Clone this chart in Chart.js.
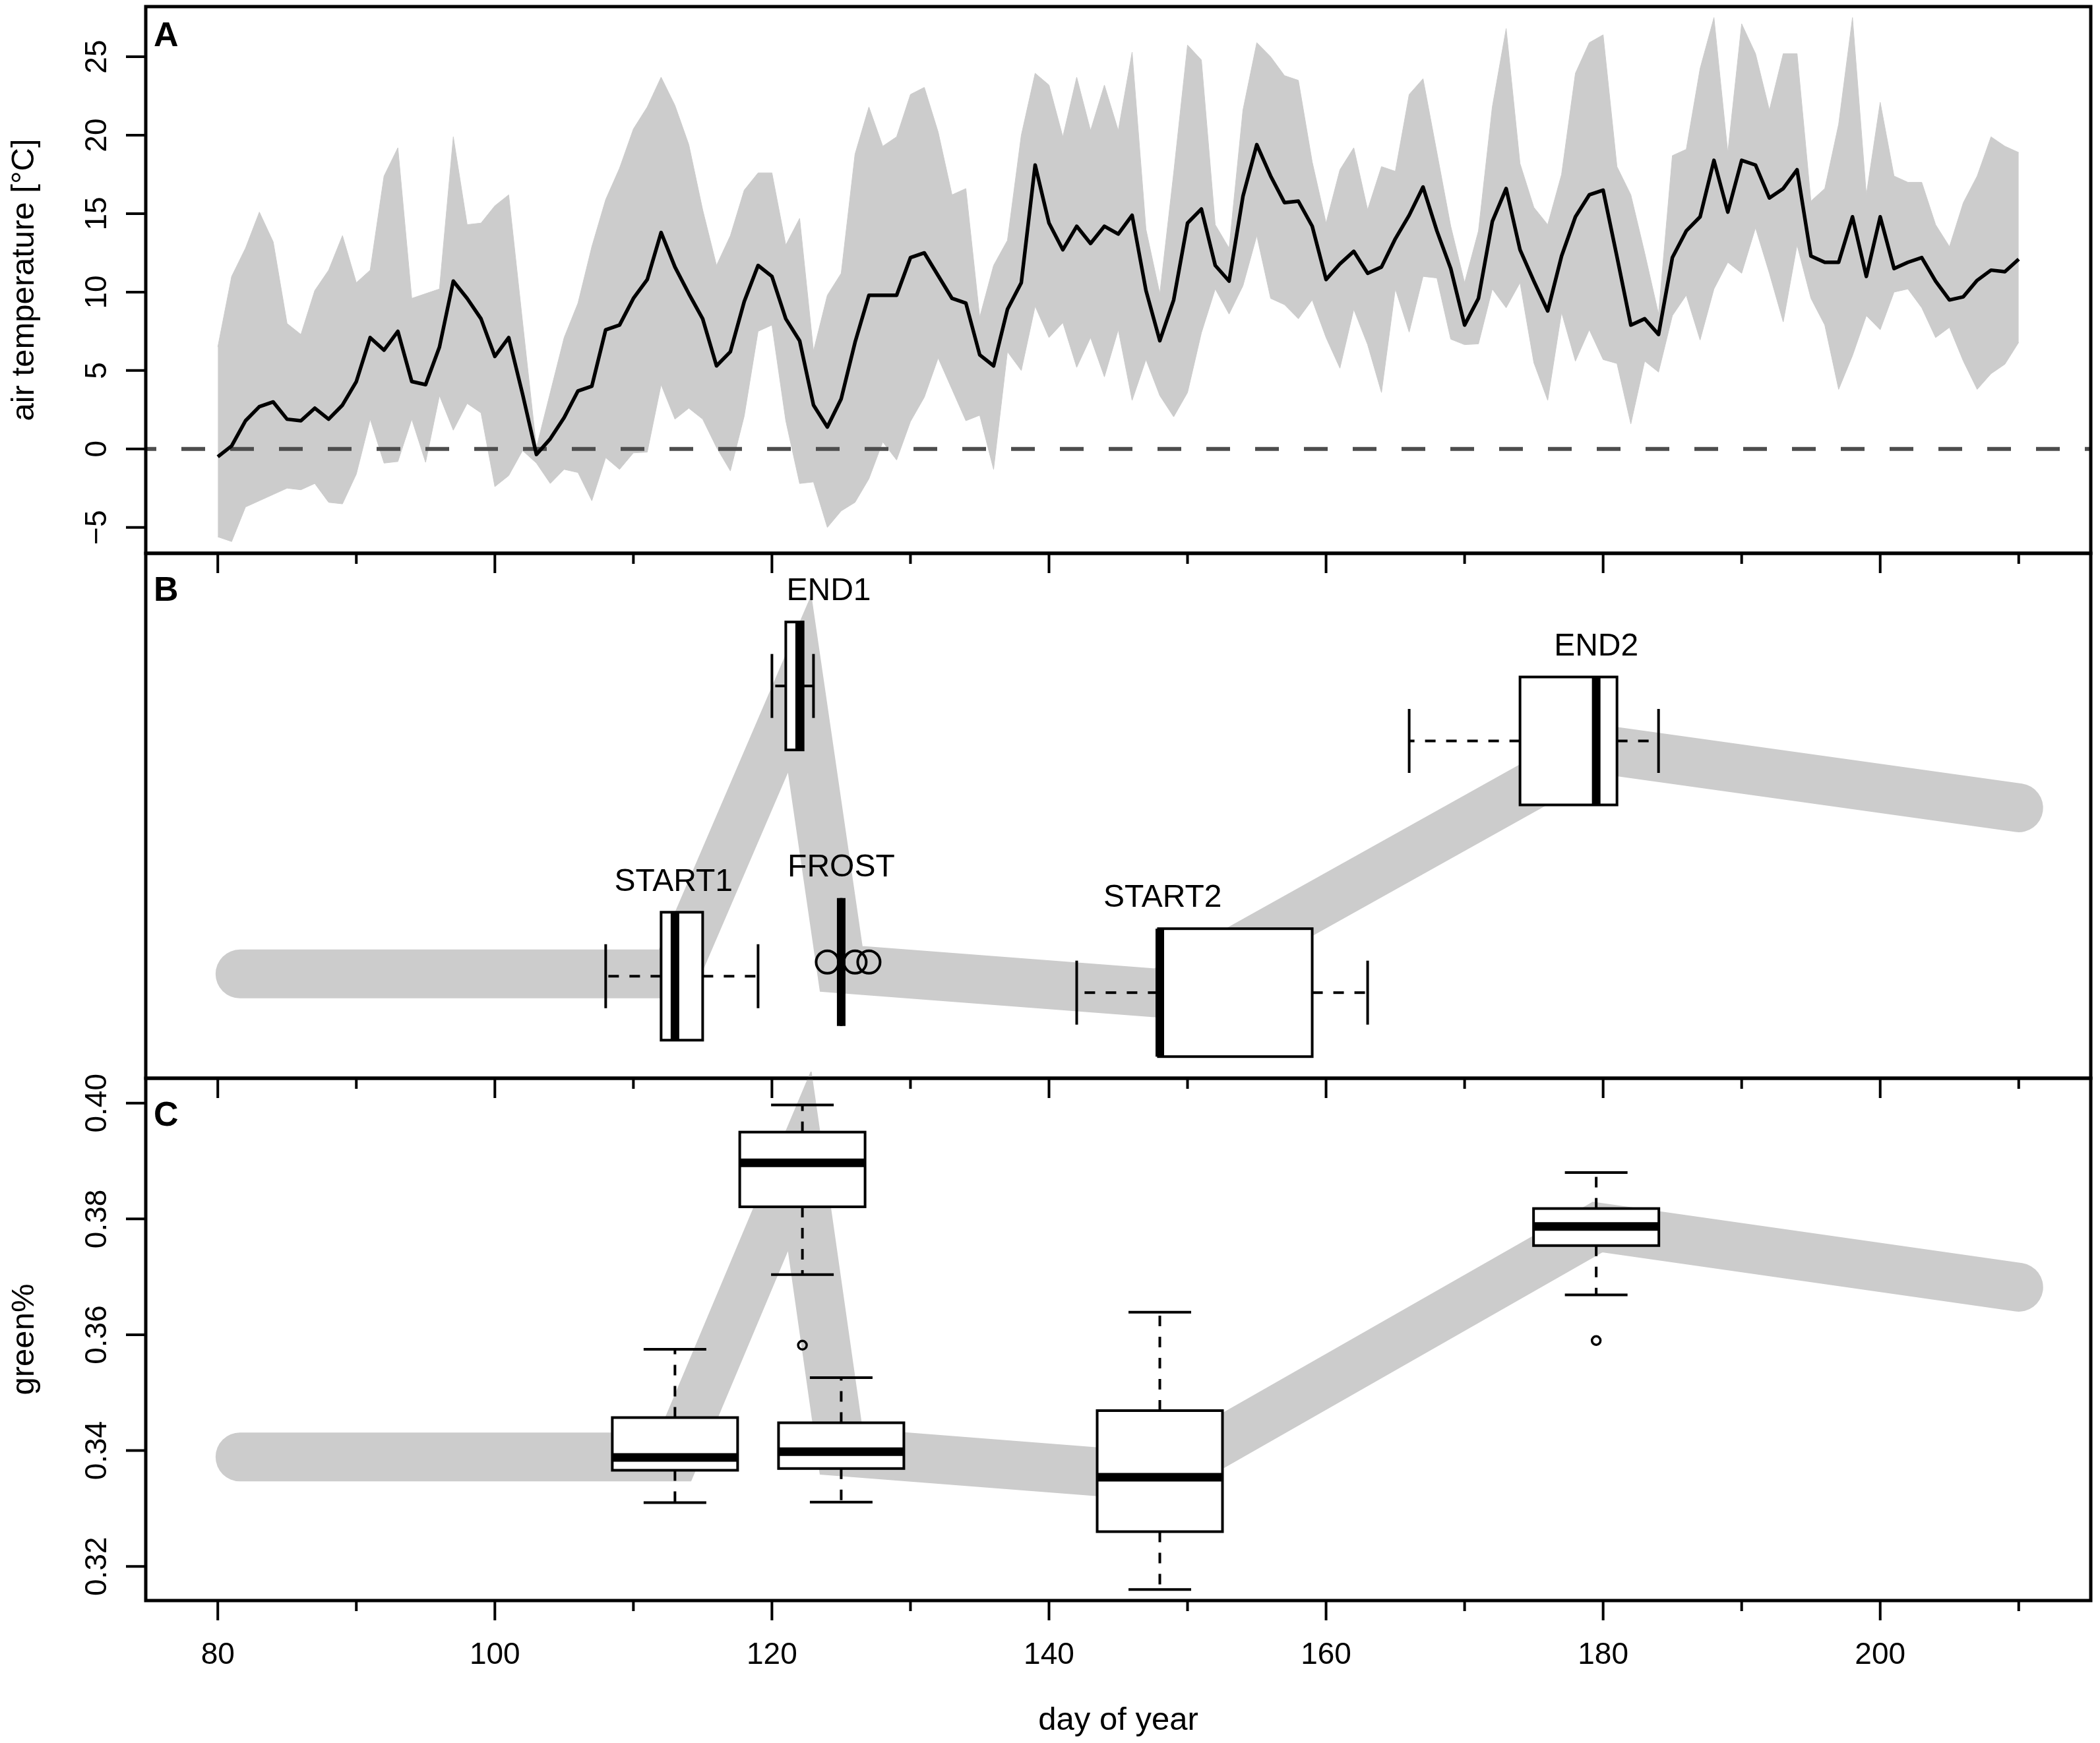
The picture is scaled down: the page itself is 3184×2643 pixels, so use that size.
<!DOCTYPE html>
<html>
<head>
<meta charset="utf-8">
<script src="https://cdn.jsdelivr.net/npm/chart.js@4.4.1/dist/chart.umd.min.js"></script>
<style>
  html, body { margin: 0; padding: 0; background: #fff; }
  body { width: 3184px; height: 2643px; position: relative; overflow: hidden; }
  .panel { position: absolute; left: 0; width: 3184px; }
</style>
</head>
<body>
<div class="panel" style="top:0;height:880px"><canvas id="chartA"></canvas></div>
<div class="panel" style="top:820px;height:860px"><canvas id="chartB"></canvas></div>
<div class="panel" style="top:1600px;height:1043px"><canvas id="chartC"></canvas></div>
<script>
// --- panel A: daily air temperature (mean line + range band) ---
const days = [
  80, 81, 82, 83, 84, 85, 86, 87, 88, 89,
  90, 91, 92, 93, 94, 95, 96, 97, 98, 99,
  100, 101, 102, 103, 104, 105, 106, 107, 108, 109,
  110, 111, 112, 113, 114, 115, 116, 117, 118, 119,
  120, 121, 122, 123, 124, 125, 126, 127, 128, 129,
  130, 131, 132, 133, 134, 135, 136, 137, 138, 139,
  140, 141, 142, 143, 144, 145, 146, 147, 148, 149,
  150, 151, 152, 153, 154, 155, 156, 157, 158, 159,
  160, 161, 162, 163, 164, 165, 166, 167, 168, 169,
  170, 171, 172, 173, 174, 175, 176, 177, 178, 179,
  180, 181, 182, 183, 184, 185, 186, 187, 188, 189,
  190, 191, 192, 193, 194, 195, 196, 197, 198, 199,
  200, 201, 202, 203, 204, 205, 206, 207, 208, 209,
  210
];
const tempMean = [
  -0.5, 0.2, 1.8, 2.7, 3.0, 1.9, 1.8, 2.6, 1.9, 2.8,
  4.3, 7.1, 6.3, 7.5, 4.3, 4.1, 6.5, 10.7, 9.6, 8.3,
  5.9, 7.1, 3.5, -0.35, 0.65, 2.0, 3.7, 4.0, 7.6, 7.9,
  9.6, 10.8, 13.8, 11.6, 9.9, 8.3, 5.3, 6.2, 9.4, 11.7,
  11.0, 8.3, 6.9, 2.8, 1.4, 3.2, 6.8, 9.8, 9.8, 9.8,
  12.2, 12.5, 11.05, 9.6, 9.3, 6.0, 5.3, 8.9, 10.6, 18.1,
  14.4, 12.7, 14.2, 13.1, 14.2, 13.7, 14.9, 10.1, 6.9, 9.5,
  14.4, 15.3, 11.7, 10.7, 16.1, 19.4, 17.4, 15.7, 15.8, 14.2,
  10.8, 11.8, 12.6, 11.2, 11.6, 13.4, 14.9, 16.7, 13.9, 11.5,
  7.9, 9.6, 14.5, 16.6, 12.7, 10.7, 8.8, 12.3, 14.8, 16.2,
  16.5, 12.25, 7.9, 8.3, 7.3, 12.2, 13.9, 14.8, 18.4, 15.1,
  18.4, 18.1, 16.0, 16.6, 17.8, 12.3, 11.9, 11.9, 14.8, 11.0,
  14.8, 11.5, 11.9, 12.2, 10.7, 9.5, 9.7, 10.75, 11.4, 11.3,
  12.1
];
const tempUpper = [
  6.5, 11.0, 12.8, 15.1, 13.2, 8.0, 7.3, 10.1, 11.4, 13.6,
  10.6, 11.4, 17.4, 19.2, 9.6, 9.9, 10.2, 19.9, 14.3, 14.4,
  15.5, 16.2, 8.1, 0.1, 3.6, 7.1, 9.3, 12.9, 15.9, 17.9,
  20.4, 21.8, 23.7, 21.9, 19.4, 15.25, 11.7, 13.6, 16.5, 17.6,
  17.6, 13.0, 14.7, 6.25, 9.8, 11.2, 18.8, 21.8, 19.3, 19.9,
  22.6, 23.05, 20.2, 16.2, 16.6, 8.4, 11.7, 13.3, 20.0, 23.95,
  23.2, 19.9, 23.7, 20.3, 23.2, 20.3, 25.3, 14.0, 9.9, 17.6,
  25.75, 24.8, 14.3, 12.8, 21.6, 25.9, 25.0, 23.8, 23.5, 18.3,
  14.4, 17.8, 19.2, 15.25, 18.0, 17.7, 22.6, 23.6, 18.9, 14.2,
  10.6, 13.9, 21.8, 26.8, 18.2, 15.4, 14.3, 17.5, 23.95, 25.9,
  26.4, 18.0, 16.2, 12.5, 8.6, 18.7, 19.1, 24.25, 27.5, 18.9,
  27.1, 25.2, 21.6, 25.2, 25.2, 15.8, 16.6, 20.7, 27.5, 16.2,
  22.1, 17.4, 17.0, 17.0, 14.3, 12.9, 15.7, 17.4, 19.9, 19.3,
  18.9
];
const tempLower = [
  -5.6, -5.9, -3.7, -3.3, -2.9, -2.5, -2.6, -2.2, -3.4, -3.5,
  -1.6, 1.9, -0.9, -0.8, 1.9, -0.85, 3.4, 1.2, 2.9, 2.3,
  -2.4, -1.7, -0.1, -0.9, -2.2, -1.3, -1.5, -3.3, -0.55, -1.3,
  -0.25, -0.2, 4.1, 1.9, 2.6, 1.9, 0.1, -1.4, 2.1, 7.5,
  7.9, 1.8, -2.2, -2.1, -5.0, -3.95, -3.4, -1.9, 0.45, -0.7,
  1.75, 3.3, 5.8, 3.8, 1.8, 2.15, -1.3, 6.2, 5.0, 9.1,
  7.1, 8.05, 5.2, 7.1, 4.6, 7.6, 3.1, 5.7, 3.4, 2.05,
  3.6, 7.4, 10.2, 8.6, 10.4, 13.6, 9.6, 9.2, 8.3, 9.5,
  7.1, 5.15, 8.9, 6.65, 3.6, 10.2, 7.45, 11.0, 10.9, 7.0,
  6.65, 6.7, 10.2, 9.0, 10.6, 5.5, 3.1, 8.7, 5.6, 7.6,
  5.7, 5.45, 1.6, 5.6, 4.9, 8.5, 9.8, 6.95, 10.2, 11.9,
  11.2, 14.1, 11.2, 8.1, 13.0, 9.6, 7.9, 3.8, 5.95, 8.5,
  7.6, 10.0, 10.2, 9.0, 7.1, 7.75, 5.6, 3.8, 4.8, 5.4,
  6.8
];

// --- modelled green% curve (grey band in B and C) ---
const curveDay = [81.6, 113, 122, 125, 148, 179.6, 210];
const curveGreen = [0.3389, 0.3389, 0.3901, 0.3398, 0.3355, 0.3786, 0.3682];

// --- panel B: day-of-year distributions of the phases ---
const phaseNames = ["START1", "END1", "FROST", "START2", "END2"];
const dayMin = [108, 120, 125, 142, 166];
const dayQ1 = [112, 121, 125, 147.9, 174];
const dayMed = [113, 122, 125, 148, 179.5];
const dayQ3 = [115, 122.25, 125, 159, 181];
const dayMax = [119, 123, 125, 163, 184];
const dayOutliers = [[], [], [124, 126, 127], [], []];
const dayLevel = [0.3385, 0.3897, 0.341, 0.3356, 0.380];
const labelDay = [112.9, 124.1, 125, 148.2, 179.5];

// --- panel C: green% distributions at each phase ---
const greenPos = [113, 122.2, 125, 148, 179.5];
const greenMin = [0.3310, 0.3704, 0.3311, 0.3160, 0.3669];
const greenQ1 = [0.3366, 0.3821, 0.3369, 0.3260, 0.3754];
const greenMed = [0.3388, 0.3897, 0.3398, 0.3354, 0.3787];
const greenQ3 = [0.3457, 0.3950, 0.3448, 0.3469, 0.3818];
const greenMax = [0.3575, 0.3997, 0.3526, 0.3639, 0.3880];
const greenOutliers = [[], [0.3582], [], [], [0.3590]];

// --- ticks ---
const xTickDays = [80, 90, 100, 110, 120, 130, 140, 150, 160, 170, 180, 190, 200, 210];
const xLabelDays = [80, 100, 120, 140, 160, 180, 200];
const tempTicks = [-5, 0, 5, 10, 15, 20, 25];
const tempTickLabels = ["\u22125", "0", "5", "10", "15", "20", "25"];
const greenTicks = [0.32, 0.34, 0.36, 0.38, 0.40];
const greenTickLabels = ["0.32", "0.34", "0.36", "0.38", "0.40"];

const X_MIN = 74.8, X_MAX = 215.2;
const FONT = "'Liberation Sans', Arial, Helvetica, sans-serif";
Chart.defaults.font.family = FONT;
Chart.defaults.color = "#000";

const pts = (xs, ys) => xs.map((x, i) => ({ x, y: ys[i] }));

// frame, tick marks, rotated y labels and panel letter (R-style axes)
const panelDecor = {
  id: "panelDecor",
  afterDraw(chart, args, o) {
    const { ctx, chartArea: a } = chart;
    const xs = chart.scales.x;
    ctx.save();
    ctx.strokeStyle = "#000";
    ctx.fillStyle = "#000";
    ctx.lineCap = "butt";
    ctx.lineWidth = 4;
    ctx.beginPath();
    xTickDays.forEach(d => {
      const px = xs.getPixelForValue(d);
      const len = xLabelDays.includes(d) ? 30 : 16;
      ctx.moveTo(px, a.bottom);
      ctx.lineTo(px, a.bottom + len);
    });
    ctx.stroke();
    if (o.yTicks) {
      const ys = chart.scales.y;
      ctx.beginPath();
      o.yTicks.forEach(v => {
        const py = ys.getPixelForValue(v);
        ctx.moveTo(a.left, py);
        ctx.lineTo(a.left - 30, py);
      });
      ctx.stroke();
      ctx.font = "46px " + FONT;
      ctx.textAlign = "center";
      ctx.textBaseline = "middle";
      o.yTicks.forEach((v, i) => {
        ctx.save();
        ctx.translate(a.left - 73, ys.getPixelForValue(v));
        ctx.rotate(-Math.PI / 2);
        ctx.fillText(o.yLabels[i], 0, 0);
        ctx.restore();
      });
    }
    ctx.lineWidth = 5;
    ctx.strokeRect(a.left, a.top, a.right - a.left, a.bottom - a.top);
    ctx.font = "bold 52px " + FONT;
    ctx.textAlign = "left";
    ctx.textBaseline = "alphabetic";
    ctx.fillText(o.letter, a.left + 12, a.top + o.letterBaseline);
    ctx.restore();
  }
};

// boxplots drawn through the chart scales (horizontal in B, vertical in C)
const boxPlots = {
  id: "boxPlots",
  afterDatasetsDraw(chart, args, o) {
    const { ctx } = chart;
    const xs = chart.scales.x, ys = chart.scales.y;
    const hz = o.horizontal;
    const along = v => hz ? xs.getPixelForValue(v) : ys.getPixelForValue(v);
    const across = v => hz ? ys.getPixelForValue(v) : xs.getPixelForValue(v);
    const P = (a, c) => hz ? [a, c] : [c, a];
    const seg = (a1, c1, a2, c2) => {
      ctx.beginPath();
      ctx.moveTo(...P(a1, c1));
      ctx.lineTo(...P(a2, c2));
      ctx.stroke();
    };
    const half = o.size / 2;
    ctx.save();
    ctx.strokeStyle = "#000";
    ctx.lineCap = "butt";
    o.pos.forEach((p, i) => {
      const c = across(p);
      const lo = along(o.min[i]), q1 = along(o.q1[i]), md = along(o.med[i]);
      const q3 = along(o.q3[i]), hi = along(o.max[i]);
      ctx.lineWidth = 4;
      ctx.setLineDash([16, 16]);
      seg(q1, c, lo, c);
      seg(q3, c, hi, c);
      ctx.setLineDash([]);
      seg(lo, c - half / 2, lo, c + half / 2);
      seg(hi, c - half / 2, hi, c + half / 2);
      const [bx, by] = P(Math.min(q1, q3), c - half);
      const len = Math.abs(q3 - q1);
      const [bw, bh] = hz ? [len, o.size] : [o.size, len];
      ctx.fillStyle = "#fff";
      ctx.fillRect(bx, by, bw, bh);
      ctx.lineJoin = "miter";
      ctx.strokeRect(bx, by, bw, bh);
      ctx.lineWidth = 13;
      seg(md, c - half, md, c + half);
      ctx.lineWidth = o.outlierWidth;
      (o.out[i] || []).forEach(v => {
        const [ox, oy] = P(along(v), c);
        ctx.beginPath();
        ctx.arc(ox, oy, o.outlierRadius, 0, 2 * Math.PI);
        ctx.stroke();
      });
    });
    if (o.labels) {
      ctx.fillStyle = "#000";
      ctx.font = "48px " + FONT;
      ctx.textAlign = "center";
      ctx.textBaseline = "middle";
      o.labels.forEach((t, i) => {
        ctx.fillText(t, xs.getPixelForValue(o.labelPos[i]), across(o.pos[i]) - half - 46);
      });
    }
    ctx.restore();
  }
};

const baseOpts = {
  responsive: true,
  maintainAspectRatio: false,
  animation: false,
  events: []
};
const noLegend = { legend: { display: false }, tooltip: { enabled: false } };

// Panel A
new Chart(document.getElementById("chartA"), {
  type: "line",
  data: {
    datasets: [
      { data: pts(days, tempMean), borderColor: "#000", borderWidth: 5.5, pointRadius: 0,
        tension: 0, borderJoinStyle: "round", fill: false },
      { data: [{ x: X_MIN, y: 0 }, { x: X_MAX, y: 0 }], borderColor: "#4d4d4d", borderWidth: 6,
        borderDash: [36, 38], borderDashOffset: 20, pointRadius: 0, fill: false },
      { data: pts(days, tempUpper), borderColor: "#cccccc", borderWidth: 1,
        backgroundColor: "#cccccc", pointRadius: 0, tension: 0, fill: "+1" },
      { data: pts(days, tempLower), borderColor: "#cccccc", borderWidth: 1,
        pointRadius: 0, tension: 0, fill: false }
    ]
  },
  options: {
    ...baseOpts,
    layout: { padding: { left: 0, right: 14, top: 10, bottom: 41 } },
    scales: {
      x: { type: "linear", min: X_MIN, max: X_MAX, display: false },
      y: {
        type: "linear", min: -6.65, max: 28.2,
        ticks: { display: false }, grid: { display: false }, border: { display: false },
        title: { display: true, text: "air temperature [°C]", font: { size: 49 }, padding: { top: 8, bottom: 0 } },
        afterFit: s => { s.width = 221; }
      }
    },
    plugins: { ...noLegend, panelDecor: { letter: "A", letterBaseline: 60, yTicks: tempTicks, yLabels: tempTickLabels } }
  },
  plugins: [panelDecor]
});

// Panel B
new Chart(document.getElementById("chartB"), {
  type: "line",
  data: {
    datasets: [
      { data: pts(curveDay, curveGreen), borderColor: "#cccccc", borderWidth: 74,
        borderJoinStyle: "miter", borderCapStyle: "round", pointRadius: 0, tension: 0, fill: false }
    ]
  },
  options: {
    ...baseOpts,
    layout: { padding: { left: 221, right: 14, top: 19, bottom: 45 } },
    scales: {
      x: { type: "linear", min: X_MIN, max: X_MAX, display: false },
      y: { type: "linear", min: 0.3205, max: 0.4131, display: false }
    },
    plugins: {
      ...noLegend,
      boxPlots: {
        horizontal: true, size: 194, outlierRadius: 17, outlierWidth: 4,
        pos: dayLevel, min: dayMin, q1: dayQ1, med: dayMed, q3: dayQ3, max: dayMax, out: dayOutliers,
        labels: phaseNames, labelPos: labelDay
      },
      panelDecor: { letter: "B", letterBaseline: 72 }
    }
  },
  plugins: [boxPlots, panelDecor]
});

// Panel C
new Chart(document.getElementById("chartC"), {
  type: "line",
  data: {
    datasets: [
      { data: pts(curveDay, curveGreen), borderColor: "#cccccc", borderWidth: 74,
        borderJoinStyle: "miter", borderCapStyle: "round", pointRadius: 0, tension: 0, fill: false,
        clip: { left: 0, top: 10, right: 0, bottom: 0 } }
    ]
  },
  options: {
    ...baseOpts,
    layout: { padding: { left: 0, right: 14, top: 35, bottom: 0 } },
    scales: {
      x: {
        type: "linear", min: X_MIN, max: X_MAX, position: "bottom",
        grid: { display: false }, border: { display: false },
        afterBuildTicks: s => { s.ticks = xLabelDays.map(v => ({ value: v })); },
        ticks: { font: { size: 46 }, padding: 48, autoSkip: false, maxRotation: 0, minRotation: 0, callback: v => String(v) },
        title: { display: true, text: "day of year", font: { size: 49 }, padding: { top: 0, bottom: 4 } },
        afterFit: s => { s.height = 216; }
      },
      y: {
        type: "linear", min: 0.3141, max: 0.4043,
        ticks: { display: false }, grid: { display: false }, border: { display: false },
        title: { display: true, text: "green%", font: { size: 49 }, padding: { top: 8, bottom: 0 } },
        afterFit: s => { s.width = 221; }
      }
    },
    plugins: {
      ...noLegend,
      boxPlots: {
        horizontal: false, size: 190, outlierRadius: 6.5, outlierWidth: 3.5,
        pos: greenPos, min: greenMin, q1: greenQ1, med: greenMed, q3: greenQ3, max: greenMax, out: greenOutliers
      },
      panelDecor: { letter: "C", letterBaseline: 72, yTicks: greenTicks, yLabels: greenTickLabels }
    }
  },
  plugins: [boxPlots, panelDecor]
});
</script>
</body>
</html>
